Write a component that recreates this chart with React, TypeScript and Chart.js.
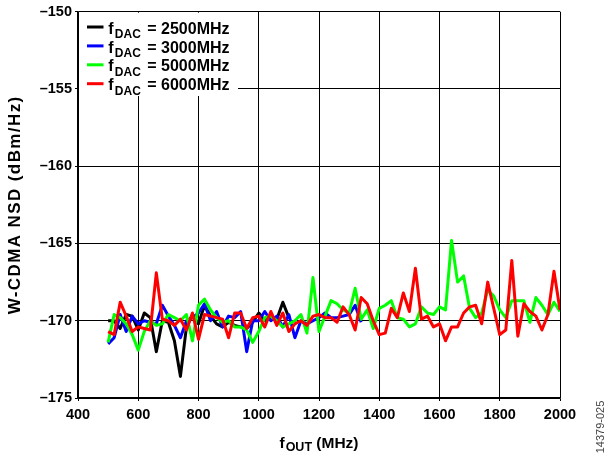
import { useEffect, useRef } from 'react';
import { Chart, registerables } from 'chart.js';

Chart.register(...registerables);

const freqMHz = [
  500, 520, 540, 560, 580, 600, 620, 640, 660, 680,
  700, 720, 740, 760, 780, 800, 820, 840, 860, 880,
  900, 920, 940, 960, 980, 1000, 1020, 1040, 1060, 1080,
  1100, 1120, 1140, 1160, 1180, 1200, 1220, 1240, 1260, 1280,
  1300, 1320, 1340, 1360, 1380, 1400, 1420, 1440, 1460, 1480,
  1500, 1520, 1540, 1560, 1580, 1600, 1620, 1640, 1660, 1680,
  1700, 1720, 1740, 1760, 1780, 1800, 1820, 1840, 1860, 1880,
  1900, 1920, 1940, 1960, 1980, 2000,
];

const nsdDac2500 = [
  -170.0, -170.0, -170.5, -169.6, -169.7, -170.6, -169.5, -169.8, -172.0, -170.0,
  -170.1, -171.3, -173.6, -170.4, -169.6, -170.2, -169.0, -169.7, -170.2, -170.4,
  -170.1, -170.3, -170.4, -170.5, -170.1, -169.5, -170.0, -169.7, -169.9, -168.8,
  -169.8,
];

const nsdDac3000 = [
  -171.5, -171.1, -169.6, -170.7, -169.7, -170.2, -170.0, -170.1, -170.2, -169.0,
  -169.7, -170.3, -171.1, -170.0, -169.8, -169.5, -168.9, -170.0, -169.4, -170.4,
  -169.7, -169.8, -169.4, -172.0, -170.0, -170.0, -169.4, -170.0, -169.7, -170.4,
  -169.6, -171.1, -170.0, -170.2, -170.0, -169.8, -169.5, -169.8, -169.8, -169.7,
  -169.6, -169.0, -170.1,
];

const nsdDac5000 = [
  -171.4, -169.6, -169.8, -170.2, -170.9, -171.9, -170.7, -170.0, -170.3, -170.2,
  -169.6, -169.8, -170.0, -169.6, -171.3, -169.0, -168.6, -169.3, -169.8, -170.1,
  -170.0, -170.4, -170.4, -170.6, -171.4, -170.7, -169.8, -169.7, -170.0, -170.4,
  -170.2, -170.0, -169.6, -170.8, -167.2, -170.7, -169.7, -168.7, -168.9, -169.3,
  -169.5, -167.9, -169.9, -169.3, -170.5, -169.2, -169.0, -168.7, -169.8, -169.9,
  -170.4, -170.2, -169.1, -169.5, -169.6, -169.1, -169.3, -164.8, -167.5, -167.1,
  -169.2, -169.8, -169.5, -168.0, -168.4, -169.3, -169.8, -168.7, -168.7, -168.7,
  -170.1, -168.5, -169.0, -169.6, -168.8, -169.4,
];

const nsdDac6000 = [
  -170.7, -170.9, -168.8, -169.7, -170.7, -170.4, -170.5, -170.6, -166.9, -169.9,
  -170.0, -170.3, -169.9, -170.6, -169.5, -171.2, -169.6, -169.7, -169.8, -169.9,
  -171.1, -169.5, -169.5, -170.5, -169.8, -169.7, -170.4, -169.4, -170.3, -169.5,
  -170.7, -170.2, -170.0, -170.3, -169.7, -169.6, -169.8, -169.8, -170.1, -169.1,
  -169.6, -170.6, -168.5, -168.9, -170.0, -170.9, -170.8, -169.2, -169.8, -168.2,
  -169.4, -166.6, -169.9, -169.7, -170.4, -170.2, -171.3, -170.4, -170.4, -169.5,
  -169.1, -169.0, -170.2, -167.5, -169.2, -170.9, -170.6, -166.1, -171.0, -168.9,
  -169.4, -169.7, -170.6, -169.6, -166.8, -169.3,
];

const seriesDac = ['2500MHz', '3000MHz', '5000MHz', '6000MHz'];
const seriesColors = ['#000000', '#0000ff', '#00ff00', '#ff0000'];
const seriesValues = [nsdDac2500, nsdDac3000, nsdDac5000, nsdDac6000];

const xMin = 400;
const xMax = 2000;
const xStep = 200;
const yMin = -175;
const yMax = -150;
const yStep = 5;

const FONT = '"Liberation Sans", Arial, Helvetica, sans-serif';

const decorPlugin = {
  id: 'decor',
  beforeDatasetsDraw(chart: any) {
    const ctx = chart.ctx as CanvasRenderingContext2D;
    const a = chart.chartArea;
    ctx.save();
    // legend box
    ctx.fillStyle = '#ffffff';
    ctx.fillRect(a.left + 1, a.top + 1, 238 - a.left - 1, 96 - a.top - 1);
    for (let i = 0; i < seriesDac.length; i++) {
      const cy = 27 + i * 18.9;
      ctx.strokeStyle = seriesColors[i];
      ctx.lineWidth = 3;
      ctx.beginPath();
      ctx.moveTo(87, cy);
      ctx.lineTo(103.5, cy);
      ctx.stroke();
      ctx.fillStyle = '#000';
      ctx.textBaseline = 'alphabetic';
      ctx.textAlign = 'left';
      const base = cy + 6.6;
      let x = 108.3;
      ctx.font = `bold 16px ${FONT}`;
      ctx.fillText('f', x, base);
      x += ctx.measureText('f').width + 1.2;
      ctx.font = `bold 12px ${FONT}`;
      ctx.fillText('DAC', x, base + 4.4);
      x += ctx.measureText('DAC').width + 2;
      ctx.font = `bold 16px ${FONT}`;
      ctx.fillText(' = ' + seriesDac[i], x, base);
    }
    ctx.restore();
  },
  afterDraw(chart: any) {
    const ctx = chart.ctx as CanvasRenderingContext2D;
    const a = chart.chartArea;
    ctx.save();
    ctx.fillStyle = '#000';
    // x-axis title with subscript
    const mainF = `bold 15.5px ${FONT}`;
    const subF = `bold 12.5px ${FONT}`;
    ctx.font = mainF;
    const w1 = ctx.measureText('f').width;
    const w3 = ctx.measureText(' (MHz)').width;
    ctx.font = subF;
    const w2 = ctx.measureText('OUT').width;
    const total = w1 + 1 + w2 + w3;
    const cx = (a.left + a.right) / 2;
    let x = cx - total / 2;
    const base = 447.5;
    ctx.textAlign = 'left';
    ctx.textBaseline = 'alphabetic';
    ctx.font = mainF;
    ctx.fillText('f', x, base);
    x += w1 + 1;
    ctx.font = subF;
    ctx.fillText('OUT', x, base + 3.5);
    x += w2;
    ctx.font = mainF;
    ctx.fillText(' (MHz)', x, base);

    // y-axis title
    ctx.save();
    ctx.translate(15.5, (a.top + a.bottom) / 2);
    ctx.rotate(-Math.PI / 2);
    ctx.textAlign = 'center';
    ctx.textBaseline = 'middle';
    ctx.font = `bold 17px ${FONT}`;
    try {
      (ctx as any).letterSpacing = '1.4px';
    } catch (e) {
      /* ignore */
    }
    ctx.fillText('W-CDMA NSD (dBm/Hz)', 0, 0);
    ctx.restore();

    // figure id
    ctx.save();
    ctx.translate(601, 427);
    ctx.rotate(-Math.PI / 2);
    ctx.textAlign = 'center';
    ctx.textBaseline = 'middle';
    ctx.fillStyle = '#444';
    ctx.font = `11px ${FONT}`;
    ctx.fillText('14379-025', 0, 0);
    ctx.restore();

    ctx.restore();
  },
};

export default function App() {
  const ref = useRef<HTMLCanvasElement>(null);
  useEffect(() => {
    const datasets = seriesValues.map((vals, i) => ({
      label: 'fDAC = ' + seriesDac[i],
      data: vals.map((v, j) => ({ x: freqMHz[j], y: v })),
      borderColor: seriesColors[i],
      backgroundColor: seriesColors[i],
      borderWidth: 3,
      pointRadius: 0,
      tension: 0,
      fill: false,
      borderJoinStyle: 'round' as const,
      order: seriesValues.length - i,
    }));
    const chart = new Chart(ref.current!, {
      type: 'line',
      data: { datasets },
      plugins: [decorPlugin],
      options: {
        responsive: false,
        animation: false,
        devicePixelRatio: 1,
        layout: { padding: { top: 11, right: 54, left: 0, bottom: 0 } },
        plugins: {
          legend: { display: false },
          tooltip: { enabled: false },
          title: { display: false },
        },
        scales: {
          x: {
            type: 'linear',
            min: xMin,
            max: xMax,
            afterFit: (s: any) => {
              s.height = 57;
            },
            ticks: {
              stepSize: xStep,
              color: '#000',
              font: { family: FONT, size: 14.5, weight: 'bold' },
              padding: 5,
              maxRotation: 0,
              autoSkip: false,
              callback: (v: any) => String(v),
            },
            grid: { color: '#000', lineWidth: 1, tickLength: 3 },
            border: { color: '#000', width: 1.5 },
          },
          y: {
            type: 'linear',
            min: yMin,
            max: yMax,
            afterFit: (s: any) => {
              s.width = 78;
            },
            ticks: {
              stepSize: yStep,
              color: '#000',
              font: { family: FONT, size: 14.5, weight: 'bold' },
              padding: 3,
              callback: (v: any) => (Number(v) < 0 ? '\u2013' + Math.abs(Number(v)) : String(v)),
            },
            grid: { color: '#000', lineWidth: 1, tickLength: 3 },
            border: { color: '#000', width: 1.5 },
          },
        },
      },
    });
    return () => chart.destroy();
  }, []);
  return (
    <div style={{ position: 'fixed', left: 0, top: 0, width: 614, height: 455, background: '#fff' }}>
      <canvas ref={ref} width={614} height={455} style={{ display: 'block' }} />
    </div>
  );
}
